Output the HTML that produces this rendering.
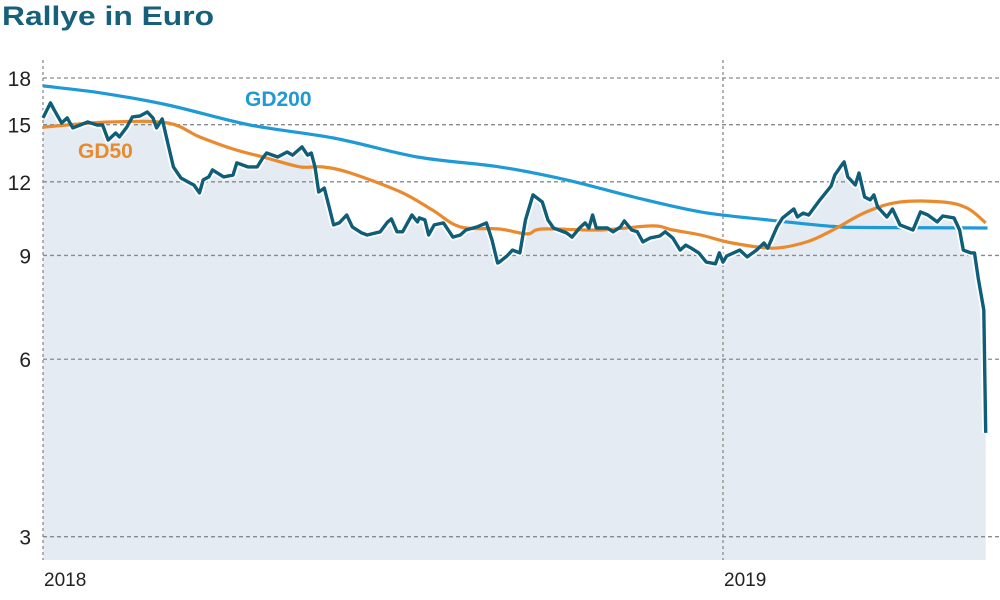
<!DOCTYPE html>
<html><head><meta charset="utf-8"><style>
html,body{margin:0;padding:0;background:#fff;}
body{width:1000px;height:595px;overflow:hidden;font-family:"Liberation Sans",sans-serif;}
</style></head><body>
<svg id="chart" width="1000" height="595" viewBox="0 0 1000 595" xmlns="http://www.w3.org/2000/svg">
<text x="2" y="25" font-family="Liberation Sans, sans-serif" font-weight="bold" font-size="27" fill="#17607c" textLength="212" lengthAdjust="spacingAndGlyphs">Rallye in Euro</text>
<g id="areaG"></g><g id="grid"></g><g id="series"></g><g id="labels"></g>
</svg>
<script>
const priceDays=[0,4,6,10,13,16,20,24,29,32,35,39,41,45,48,52,56,59,61,64,67,70,74,79,81,84,86,89,91,97,102,104,110,115,118,120,126,131,134,139,142,144,146,148,151,154,156,159,163,166,171,174,181,185,187,190,193,198,201,202,205,207,210,215,220,224,227,233,238,241,244,245,249,252,256,259,263,268,271,274,281,284,288,291,293,295,297,303,306,310,312,316,319,322,326,331,334,338,342,345,348,352,356,361,363,365,367,374,378,383,387,389,394,397,403,405,408,411,417,423,425,428,430,432,436,438,441,444,446,448,453,456,460,467,471,475,480,483,489,492,494,498,500,502,505,506];
const priceValues=[15.40,16.33,15.89,15.10,15.40,14.81,14.98,15.16,14.98,14.98,14.13,14.52,14.30,14.86,15.46,15.52,15.76,15.40,14.81,15.34,13.96,12.72,12.18,11.94,11.85,11.49,12.09,12.23,12.57,12.23,12.32,12.92,12.72,12.72,13.17,13.43,13.22,13.48,13.32,13.75,13.32,13.43,12.72,11.53,11.71,10.75,10.14,10.22,10.54,10.06,9.83,9.75,9.87,10.26,10.38,9.87,9.87,10.54,10.26,10.42,10.34,9.75,10.14,10.22,9.67,9.75,9.94,10.06,10.22,9.56,8.74,8.77,8.98,9.19,9.09,10.34,11.40,11.09,10.34,10.02,9.83,9.67,10.02,10.22,10.02,10.54,10.02,10.02,9.87,10.06,10.30,9.94,9.87,9.49,9.64,9.71,9.87,9.64,9.19,9.37,9.26,9.09,8.77,8.71,9.09,8.77,8.98,9.19,8.95,9.19,9.45,9.26,10.06,10.42,10.79,10.46,10.62,10.54,11.18,11.80,12.32,12.72,12.97,12.23,11.85,12.42,11.31,11.18,11.40,10.88,10.46,10.79,10.14,9.94,10.67,10.54,10.26,10.50,10.42,9.94,9.19,9.09,9.09,8.24,7.27,4.50];
const gd200Days=[0,31,67,111,156,201,245,281,317,353,389,424,442,507];
const gd200Values=[17.45,16.98,16.20,14.98,14.24,13.22,12.72,12.09,11.31,10.67,10.34,10.08,10.04,10.02];
const gd50Days=[0,36,67,84,102,120,138,150,165,192,209,224,245,260,268,299,327,338,353,370,392,410,424,442,460,483,496,506];
const gd50Values=[14.86,15.16,15.10,14.30,13.64,13.17,12.72,12.72,12.42,11.53,10.75,10.06,9.98,9.79,9.98,9.94,10.10,9.94,9.75,9.45,9.26,9.49,9.94,10.67,11.09,11.09,10.83,10.22];
const yTicks=[18,15,12,9,6,3];
const xTickLabels=["2018","2019"];
const xTickDays=[0,365];

const NS="http://www.w3.org/2000/svg";
const X0=43, PXD=680/365, BOTTOM=560;
function xs(d){return X0+d*PXD;}
function ys(v){return 78+256*Math.log(18/v);}
function mk(tag,attrs,parent){const e=document.createElementNS(NS,tag);for(const k in attrs)e.setAttribute(k,attrs[k]);parent.appendChild(e);return e;}
const areaG=document.getElementById('areaG'),grid=document.getElementById('grid'),series=document.getElementById('series'),labels=document.getElementById('labels');

function pathD(days,vals){return days.map((d,i)=>(i?'L':'M')+xs(d).toFixed(1)+','+ys(vals[i]).toFixed(1)).join(' ');}
function smoothD(days,vals){
  const p=days.map((d,i)=>[xs(d),ys(vals[i])]);
  let s='M'+p[0][0].toFixed(1)+','+p[0][1].toFixed(1);
  for(let i=0;i<p.length-1;i++){
    const p0=p[Math.max(0,i-1)],p1=p[i],p2=p[i+1],p3=p[Math.min(p.length-1,i+2)];
    const c1=[p1[0]+(p2[0]-p0[0])/6,p1[1]+(p2[1]-p0[1])/6];
    const c2=[p2[0]-(p3[0]-p1[0])/6,p2[1]-(p3[1]-p1[1])/6];
    s+=' C'+c1[0].toFixed(1)+','+c1[1].toFixed(1)+' '+c2[0].toFixed(1)+','+c2[1].toFixed(1)+' '+p2[0].toFixed(1)+','+p2[1].toFixed(1);
  }
  return s;
}
const last=priceDays.length-1;
const area=mk('path',{d:pathD(priceDays,priceValues)+' L'+xs(priceDays[last]).toFixed(1)+','+BOTTOM+' L'+X0+','+BOTTOM+' Z',fill:'#e4ebf3'},areaG);



yTicks.forEach(v=>{
  const l=mk('line',{x1:X0,x2:1000,y1:ys(v),y2:ys(v),stroke:'#8a8a8a','stroke-width':1.3,'stroke-dasharray':'4,3'},grid);
  
  
  const t=mk('text',{x:31,y:ys(v)+8,'text-anchor':'end','font-size':21,fill:'#222','font-family':'Liberation Sans, sans-serif'},labels);
  t.textContent=v;
  
  
});
xTickDays.forEach((d,i)=>{
  const l=mk('line',{x1:xs(d),x2:xs(d),y1:60,y2:BOTTOM,stroke:'#8a8a8a','stroke-width':1.3,'stroke-dasharray':'3,3'},grid);
  
  
  const t=mk('text',{x:xs(d)+1,y:586,'font-size':19,fill:'#222','font-family':'Liberation Sans, sans-serif'},labels);
  t.textContent=xTickLabels[i];
  
  
});
const g200=mk('path',{d:smoothD(gd200Days,gd200Values),fill:'none',stroke:'#1f9ad6','stroke-width':3.2,'stroke-linejoin':'round'},series);


const halo=mk('path',{d:pathD(priceDays,priceValues),fill:'none',stroke:'#fff','stroke-width':7,'stroke-linejoin':'round'},series);


const g50=mk('path',{d:smoothD(gd50Days,gd50Values),fill:'none',stroke:'#e98a2e','stroke-width':3.2,'stroke-linejoin':'round'},series);


const pl=mk('path',{d:pathD(priceDays,priceValues),fill:'none',stroke:'#0e5e79','stroke-width':3.4,'stroke-linejoin':'round'},series);



const l1=mk('text',{x:245,y:106,'font-size':21,'font-weight':'bold',fill:'#1f9ad6','font-family':'Liberation Sans, sans-serif'},labels);
l1.textContent='GD200';


const l2=mk('text',{x:78,y:158,'font-size':21,'font-weight':'bold',fill:'#e98a2e','font-family':'Liberation Sans, sans-serif'},labels);
l2.textContent='GD50';


</script>
</body></html>
